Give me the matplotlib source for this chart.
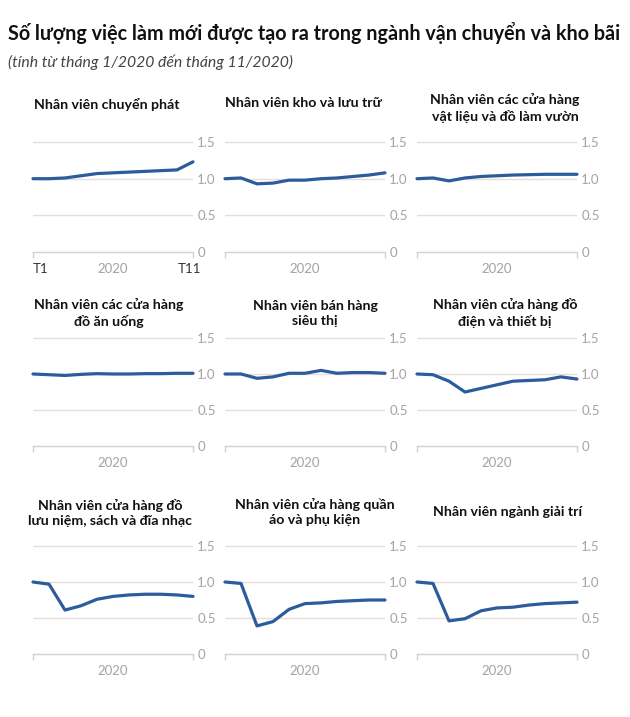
import matplotlib
matplotlib.use("Agg")
import matplotlib.pyplot as plt

months = list(range(1, 12))
titles = [
    "Nhân viên chuyển phát",
    "Nhân viên kho và lưu trữ",
    "Nhân viên các cửa hàng\nvật liệu và đồ làm vườn",
    "Nhân viên các cửa hàng\nđồ ăn uống",
    "Nhân viên bán hàng\nsiêu thị",
    "Nhân viên cửa hàng đồ\nđiện và thiết bị",
    "Nhân viên cửa hàng đồ\nlưu niệm, sách và đĩa nhạc",
    "Nhân viên cửa hàng quần\náo và phụ kiện",
    "Nhân viên ngành giải trí",
]
chuyen_phat = [1.0, 1.0, 1.01, 1.04, 1.07, 1.08, 1.09, 1.10, 1.11, 1.12, 1.23]
kho_luu_tru = [1.0, 1.01, 0.93, 0.94, 0.98, 0.98, 1.0, 1.01, 1.03, 1.05, 1.08]
vat_lieu = [1.0, 1.01, 0.97, 1.01, 1.03, 1.04, 1.05, 1.055, 1.06, 1.06, 1.06]
an_uong = [1.0, 0.99, 0.98, 0.995, 1.005, 1.0, 1.0, 1.005, 1.005, 1.01, 1.01]
sieu_thi = [1.0, 1.0, 0.94, 0.96, 1.01, 1.01, 1.05, 1.01, 1.02, 1.02, 1.01]
dien_tb = [1.0, 0.99, 0.90, 0.75, 0.80, 0.85, 0.90, 0.91, 0.92, 0.96, 0.93]
luu_niem = [1.0, 0.97, 0.61, 0.67, 0.76, 0.80, 0.82, 0.83, 0.83, 0.82, 0.80]
quan_ao = [1.0, 0.98, 0.39, 0.45, 0.62, 0.70, 0.71, 0.73, 0.74, 0.75, 0.75]
giai_tri = [1.0, 0.98, 0.46, 0.49, 0.60, 0.64, 0.65, 0.68, 0.70, 0.71, 0.72]
series = [chuyen_phat, kho_luu_tru, vat_lieu, an_uong, sieu_thi, dien_tb,
          luu_niem, quan_ao, giai_tri]
yticks = [0, 0.5, 1.0, 1.5]
ytick_labels = ["0", "0.5", "1.0", "1.5"]
year_label = "2020"
first_label, last_label = "T1", "T11"

FONT = ["Lato", "DejaVu Sans"]
plt.rcParams["font.family"] = FONT

W, H = 630, 717
fig = plt.figure(figsize=(W / 100, H / 100), dpi=100)
fig.patch.set_facecolor("white")

def fx(px):
    return px / W

def fy(py):
    return 1 - py / H

lefts = [33, 225, 417]
zeros = [252, 446, 654]
unit_px = [73.3, 72, 72]
title_pos = [
    (107, 104), (303, 103), (505, 108),
    (109, 313), (315, 314), (505, 313),
    (110, 513), (315, 512), (508, 512),
]
LINE = "#2c5c9c"
GRID = "#e7ded5"
TICKC = "#a3a3a3"
YMAX = 1.6

for i, (vals, title) in enumerate(zip(series, titles)):
    r, c = divmod(i, 3)
    hpx = unit_px[r] * YMAX
    ax = fig.add_axes([fx(lefts[c]), fy(zeros[r]), fx(160), hpx / H])
    ax.plot(months, vals, color=LINE, lw=2.3, solid_capstyle="round", clip_on=False, zorder=3)
    ax.set_xlim(1, 11)
    ax.set_ylim(0, YMAX)
    for s in ["top", "left", "right"]:
        ax.spines[s].set_visible(False)
    ax.spines["bottom"].set_color("#d9d0c7")
    ax.spines["bottom"].set_linewidth(1.0)
    ax.yaxis.tick_right()
    ax.set_yticks(yticks)
    ax.set_yticklabels(ytick_labels)
    ax.tick_params(axis="y", length=0, pad=3, labelsize=9.5, labelcolor=TICKC)
    for yv in yticks[1:]:
        ax.axhline(yv, color=GRID, lw=1.0, zorder=1)
    ax.set_xticks([1, 11])
    ax.set_xticklabels(["", ""])
    ax.tick_params(axis="x", length=4, width=1.0, color="#d9d0c7", direction="out")
    ax.text(6, -0.23, year_label, transform=ax.transData, ha="center", va="center",
            fontsize=9.5, color=TICKC)
    if i == 0:
        ax.text(1.45, -0.23, first_label, ha="center", va="center", fontsize=9.5, color="#333333")
        ax.text(10.8, -0.23, last_label, ha="center", va="center", fontsize=9.5, color="#333333")
    tx, ty = title_pos[i]
    fig.text(fx(tx), fy(ty), title, ha="center", va="center", fontsize=10.2,
             fontweight="bold", color="#111111", linespacing=1.3)

fig.text(fx(8), fy(33), "Số lượng việc làm mới được tạo ra trong ngành vận chuyển và kho bãi",
         ha="left", va="center", fontsize=14.2, fontweight="bold", color="#111111")
fig.text(fx(8), fy(62), "(tính từ tháng 1/2020 đến tháng 11/2020)",
         ha="left", va="center", fontsize=11.3, fontstyle="italic", color="#444444")

fig.savefig("out.png", dpi=100, facecolor="white")
